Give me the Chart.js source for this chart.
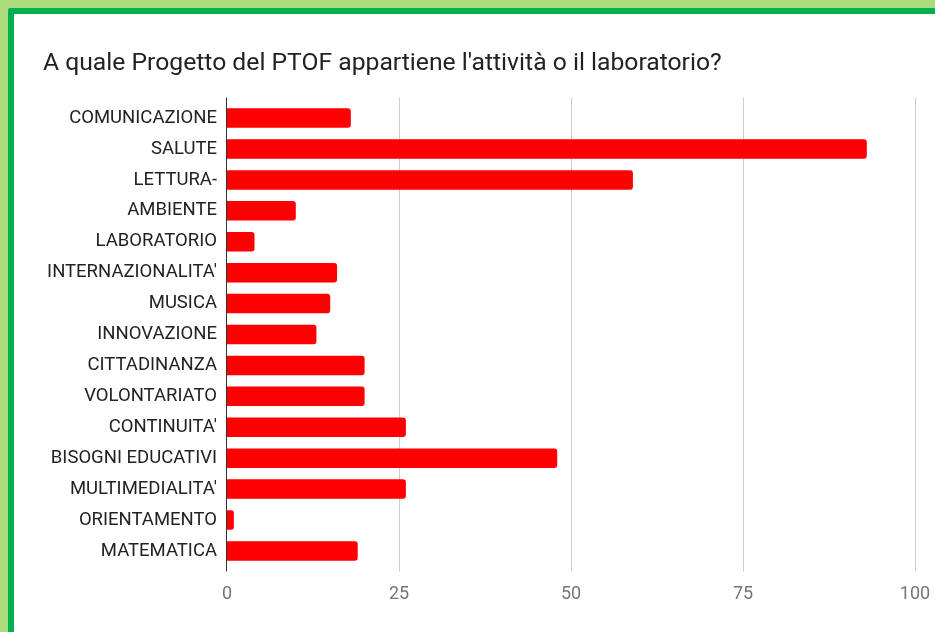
<!DOCTYPE html>
<html>
<head>
<meta charset="utf-8">
<script src="https://cdn.jsdelivr.net/npm/chart.js@4"></script>
<style>
  html, body { margin: 0; padding: 0; }
  body { width: 935px; height: 632px; background: #abdb7b; position: relative; overflow: hidden; }
  #frame {
    position: absolute; left: 8px; top: 8px; width: 940px; height: 640px;
    border-left: 6px solid #00b050; border-top: 6px solid #00b050;
    border-top-left-radius: 3px; background: #fff;
  }
  #wrap { position: absolute; left: 14px; top: 14px; width: 921px; height: 618px; }
</style>
</head>
<body>
<div id="frame"></div>
<div id="wrap"><canvas id="myChart"></canvas></div>
<script>
// chart data
const titleText = "A quale Progetto del PTOF appartiene l'attività o il laboratorio?";
const categories = [
    'COMUNICAZIONE', 'SALUTE', 'LETTURA-', 'AMBIENTE', 'LABORATORIO',
    "INTERNAZIONALITA'", 'MUSICA', 'INNOVAZIONE', 'CITTADINANZA', 'VOLONTARIATO',
    "CONTINUITA'", 'BISOGNI EDUCATIVI', "MULTIMEDIALITA'", 'ORIENTAMENTO', 'MATEMATICA'
];
const counts = [18, 93, 59, 10, 4, 16, 15, 13, 20, 20, 26, 48, 26, 1, 19];
const xTicks = [0, 25, 50, 75, 100];

// grid lines a bit longer than the bar area, like the original
const gridPlugin = {
    id: 'longGrid',
    beforeDatasetsDraw(chart) {
        const { ctx, chartArea, scales } = chart;
        ctx.save();
        ctx.lineWidth = 1;
        ctx.strokeStyle = '#cccccc';
        xTicks.slice(1).forEach(v => {
            const px = Math.round(scales.x.getPixelForValue(v)) + 0.5;
            ctx.beginPath();
            ctx.moveTo(px, chartArea.top - 5);
            ctx.lineTo(px, chartArea.bottom + 5);
            ctx.stroke();
        });
        ctx.restore();
    },
    afterDatasetsDraw(chart) {
        const { ctx, chartArea, scales } = chart;
        const px = Math.round(scales.x.getPixelForValue(0)) - 0.5;
        ctx.save();
        ctx.lineWidth = 1;
        ctx.strokeStyle = '#333333';
        ctx.beginPath();
        ctx.moveTo(px, chartArea.top - 5);
        ctx.lineTo(px, chartArea.bottom + 5);
        ctx.stroke();
        ctx.restore();
    }
};

const ctx = document.getElementById('myChart').getContext('2d');
const myChart = new Chart(ctx, {
    type: 'bar',
    data: {
        labels: categories,
        datasets: [{
            data: counts,
            backgroundColor: '#ff0000',
            borderRadius: 3,
            categoryPercentage: 1,
            barPercentage: 0.63
        }]
    },
    plugins: [gridPlugin],
    options: {
        indexAxis: 'y',
        responsive: true,
        maintainAspectRatio: false,
        animation: false,
        layout: { padding: { left: 29, right: 20, top: 0, bottom: 10 } },
        plugins: {
            legend: { display: false },
            tooltip: { enabled: false },
            title: {
                display: true,
                text: titleText,
                align: 'start',
                color: '#222222',
                font: { family: 'Roboto', size: 24.7, weight: 'normal' },
                padding: { top: 35.5, bottom: 23.5 }
            }
        },
        scales: {
            x: {
                min: 0,
                max: 100,
                afterBuildTicks: scale => { scale.ticks = xTicks.map(v => ({ value: v })); },
                // the "100" label may hang over the right edge, as in the original
                afterFit: scale => { scale.paddingLeft = 0; scale.paddingRight = 0; },
                grid: { display: false, drawTicks: false },
                border: { display: false },
                ticks: {
                    color: '#757575',
                    padding: 17,
                    maxRotation: 0,
                    font: { family: 'Roboto', size: 18 }
                }
            },
            y: {
                grid: { display: false, drawTicks: false },
                border: { display: false },
                afterFit: scale => { scale.width = 184; },
                ticks: {
                    color: '#222222',
                    padding: 10,
                    autoSkip: false,
                    font: { family: 'Roboto', size: 18.5 }
                }
            }
        }
    }
});
</script>
</body>
</html>
